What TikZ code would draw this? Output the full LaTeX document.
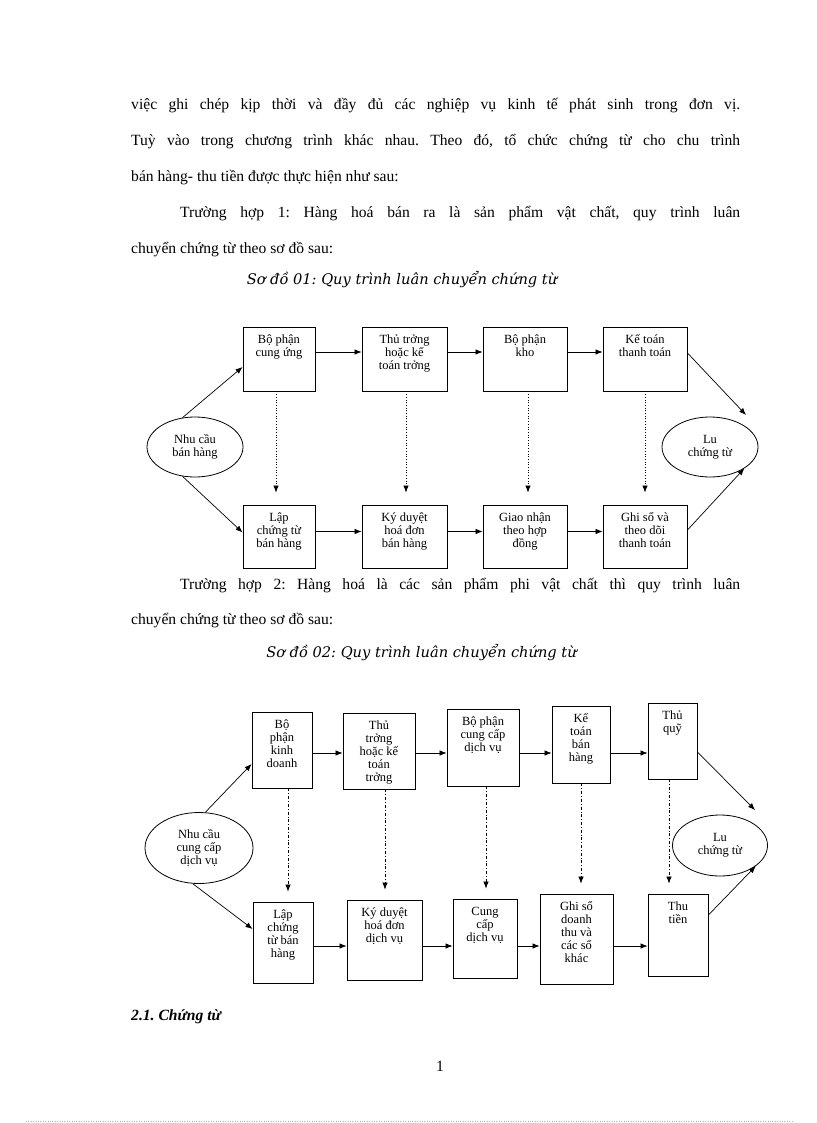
\documentclass[tikz,border=0pt]{standalone}
\usepackage{fontspec}
\setmainfont{Liberation Serif}
\newfontfamily\capfont{DejaVu Serif}
\usepackage{tikz}
\usetikzlibrary{shapes.geometric, arrows.meta}
\frenchspacing

\newcommand{\bodyfont}{\fontsize{15.6}{36}\selectfont}
\newcommand{\cellfont}{\fontsize{12.5}{13}\selectfont}
\newcommand{\boxtxt}[3]{\parbox[c][#2][t]{#1}{\centering\rule{0pt}{16pt}#3}}

\tikzset{
	cell/.style={draw, line width=0.9pt, inner sep=0pt, font=\cellfont},
	oval/.style={draw, ellipse, line width=0.8pt, inner sep=0pt, align=center, font=\cellfont},
	flow/.style={line width=0.7pt, -{Latex[length=7pt,width=5.5pt]}},
	dotdown/.style={flow, dotted, shorten >=12pt},
	dashdown/.style={flow, dash dot, shorten >=10pt},
	textline/.style={anchor=base west, inner sep=0pt, font=\bodyfont},
	caption/.style={anchor=base, inner sep=0pt, font=\capfont\itshape\fontsize{14.6}{16}\selectfont},
}

\begin{document}
\begin{tikzpicture}[x=1pt, y=-1pt]
			\useasboundingbox (0,0) rectangle (816,1123);

			\node [textline] (l1) at (131,110) {\makebox[609pt][s]{việc ghi chép kịp thời và đầy đủ các nghiệp vụ kinh tế phát sinh trong đơn vị.}};
			\node [textline] (l2) at (131,146) {\makebox[609pt][s]{Tuỳ vào trong chương trình khác nhau. Theo đó, tổ chức chứng từ cho chu trình}};
			\node [textline] (l3) at (131,182) {bán hàng- thu tiền được thực hiện như sau:};
			\node [textline] (l4) at (180,218) {\makebox[560pt][s]{Trường hợp 1: Hàng hoá bán ra là sản phẩm vật chất, quy trình luân}};
			\node [textline] (l5) at (131,254) {chuyển chứng từ theo sơ đồ sau:};
			\node [caption] (cap1) at (402,284) {Sơ đồ 01: Quy trình luân chuyển chứng từ};

			\node [cell] (bpcu) at (279,359) {\boxtxt{72pt}{64pt}{Bộ phận\\cung ứng}};
			\node [cell] (ttkt) at (404.5,359) {\boxtxt{85pt}{64pt}{Thủ trởng\\hoặc kế\\toán trởng}};
			\node [cell] (bpk) at (525,359) {\boxtxt{84pt}{64pt}{Bộ phận\\kho}};
			\node [cell] (ktt) at (645,359) {\boxtxt{84pt}{64pt}{Kế toán\\thanh toán}};
			\node [cell] (lct) at (279,536.5) {\boxtxt{72pt}{63pt}{Lập\\chứng từ\\bán hàng}};
			\node [cell] (kdhd) at (404.5,536.5) {\boxtxt{85pt}{63pt}{Ký duyệt\\hoá đơn\\bán hàng}};
			\node [cell] (gnhd) at (525,536.5) {\boxtxt{84pt}{63pt}{Giao nhận\\theo hợp\\đồng}};
			\node [cell] (gstd) at (645,536.5) {\boxtxt{84pt}{63pt}{Ghi sổ và\\theo dõi\\thanh toán}};
			\node [oval, minimum width=96pt, minimum height=60pt] (ncbh) at (195,447) {Nhu cầu\\bán hàng};
			\node [oval, minimum width=96pt, minimum height=60pt] (luct) at (710,447) {Lu\\chứng từ};
			\coordinate (luin) at (746,415);

			\draw [flow] ([yshift=7pt]bpcu.east) to ([yshift=7pt]ttkt.west);
			\draw [flow] ([yshift=7pt]ttkt.east) to ([yshift=7pt]bpk.west);
			\draw [flow] ([yshift=7pt]bpk.east) to ([yshift=7pt]ktt.west);
			\draw [flow] ([yshift=5pt]lct.east) to ([yshift=5pt]kdhd.west);
			\draw [flow] ([yshift=5pt]kdhd.east) to ([yshift=5pt]gnhd.west);
			\draw [flow] ([yshift=5pt]gnhd.east) to ([yshift=5pt]gstd.west);
			\draw [dotdown] (276,0 |- bpcu.south) to (276,0 |- lct.north);
			\draw [dotdown] (406,0 |- ttkt.south) to (406,0 |- kdhd.north);
			\draw [dotdown] (528,0 |- bpk.south) to (528,0 |- gnhd.north);
			\draw [dotdown] (645,0 |- ktt.south) to (645,0 |- gstd.north);
			\draw [flow] (ncbh.113) to ([yshift=-8pt]bpcu.west);
			\draw [flow] (ncbh.-113) to ([yshift=4pt]lct.west);
			\draw [flow] ([yshift=6pt]ktt.east) to (luin);
			\draw [flow] ([yshift=6.5pt]gstd.east) to (luct.-32);

			\node [textline] (l6) at (180,589) {\makebox[560pt][s]{Trường hợp 2: Hàng hoá là các sản phẩm phi vật chất thì quy trình luân}};
			\node [textline] (l7) at (131,624) {chuyển chứng từ theo sơ đồ sau:};
			\node [caption] (cap2) at (421.5,657) {Sơ đồ 02: Quy trình luân chuyển chứng từ};

			\node [cell] (bpkd) at (282,750) {\boxtxt{60pt}{76pt}{Bộ\\phận\\kinh\\doanh}};
			\node [cell] (tt2) at (379,751) {\boxtxt{72pt}{76pt}{Thủ\\trởng\\hoặc kế\\toán\\trởng}};
			\node [cell] (bpcc) at (483,747.5) {\boxtxt{72pt}{77pt}{Bộ phận\\cung cấp\\dịch vụ}};
			\node [cell] (ktbh) at (581,744.5) {\boxtxt{58pt}{77pt}{Kế\\toán\\bán\\hàng}};
			\node [cell] (tq) at (672.5,741) {\boxtxt{49pt}{76pt}{Thủ\\quỹ}};
			\node [cell] (lct2) at (283,942.5) {\boxtxt{60pt}{81pt}{Lập\\chứng\\từ bán\\hàng}};
			\node [cell] (kdhd2) at (384.5,940) {\boxtxt{75pt}{80pt}{Ký duyệt\\hoá đơn\\dịch vụ}};
			\node [cell] (ccdv) at (485,938.5) {\boxtxt{64pt}{79pt}{Cung\\cấp\\dịch vụ}};
			\node [cell] (gsdt) at (576.5,939) {\boxtxt{73pt}{90pt}{Ghi sổ\\doanh\\thu và\\các sổ\\khác}};
			\node [cell] (thut) at (678,935) {\boxtxt{60pt}{82pt}{Thu\\tiền}};
			\node [oval, minimum width=108pt, minimum height=71pt] (nccc) at (199,848) {Nhu cầu\\cung cấp\\dịch vụ};
			\node [oval, minimum width=95pt, minimum height=61pt] (luct2) at (720,845.5) {Lu\\chứng từ};
			\coordinate (luin2) at (755,810);

			\draw [flow] (bpkd.east |- 0,753) to (tt2.west |- 0,753);
			\draw [flow] (tt2.east |- 0,753) to (bpcc.west |- 0,753);
			\draw [flow] (bpcc.east |- 0,753) to (ktbh.west |- 0,753);
			\draw [flow] (ktbh.east |- 0,753) to (tq.west |- 0,753);
			\draw [flow] (lct2.east |- 0,946) to (kdhd2.west |- 0,946);
			\draw [flow] (kdhd2.east |- 0,946) to (ccdv.west |- 0,946);
			\draw [flow] (ccdv.east |- 0,946) to (gsdt.west |- 0,946);
			\draw [flow] (gsdt.east |- 0,946) to (thut.west |- 0,946);
			\draw [dashdown] (288,0 |- bpkd.south) to (288,0 |- lct2.north);
			\draw [dashdown] (385,0 |- tt2.south) to (385,0 |- kdhd2.north);
			\draw [dashdown] (486,0 |- bpcc.south) to (486,0 |- ccdv.north);
			\draw [dashdown] (581,0 |- ktbh.south) to (581,0 |- gsdt.north);
			\draw [dashdown] (669,0 |- tq.south) to (669,0 |- thut.north);
			\draw [flow] (nccc.80) to (bpkd.west |- 0,764);
			\draw [flow] (nccc.-100) to (lct2.west |- 0,929);
			\draw [flow] (tq.east |- 0,752) to (luin2);
			\draw [flow] (thut.east |- 0,915) to (luct2.-30);

			\node [textline, font=\bodyfont\bfseries\itshape] (h21) at (131,1020) {2.1. Chứng từ};
			\node [anchor=base, inner sep=0pt, font=\bodyfont] (pg) at (440,1071) {1};
			\draw [gray!60, dotted, line width=0.4pt] (26,1121) to (792,1121);
		\end{tikzpicture}
\end{document}
